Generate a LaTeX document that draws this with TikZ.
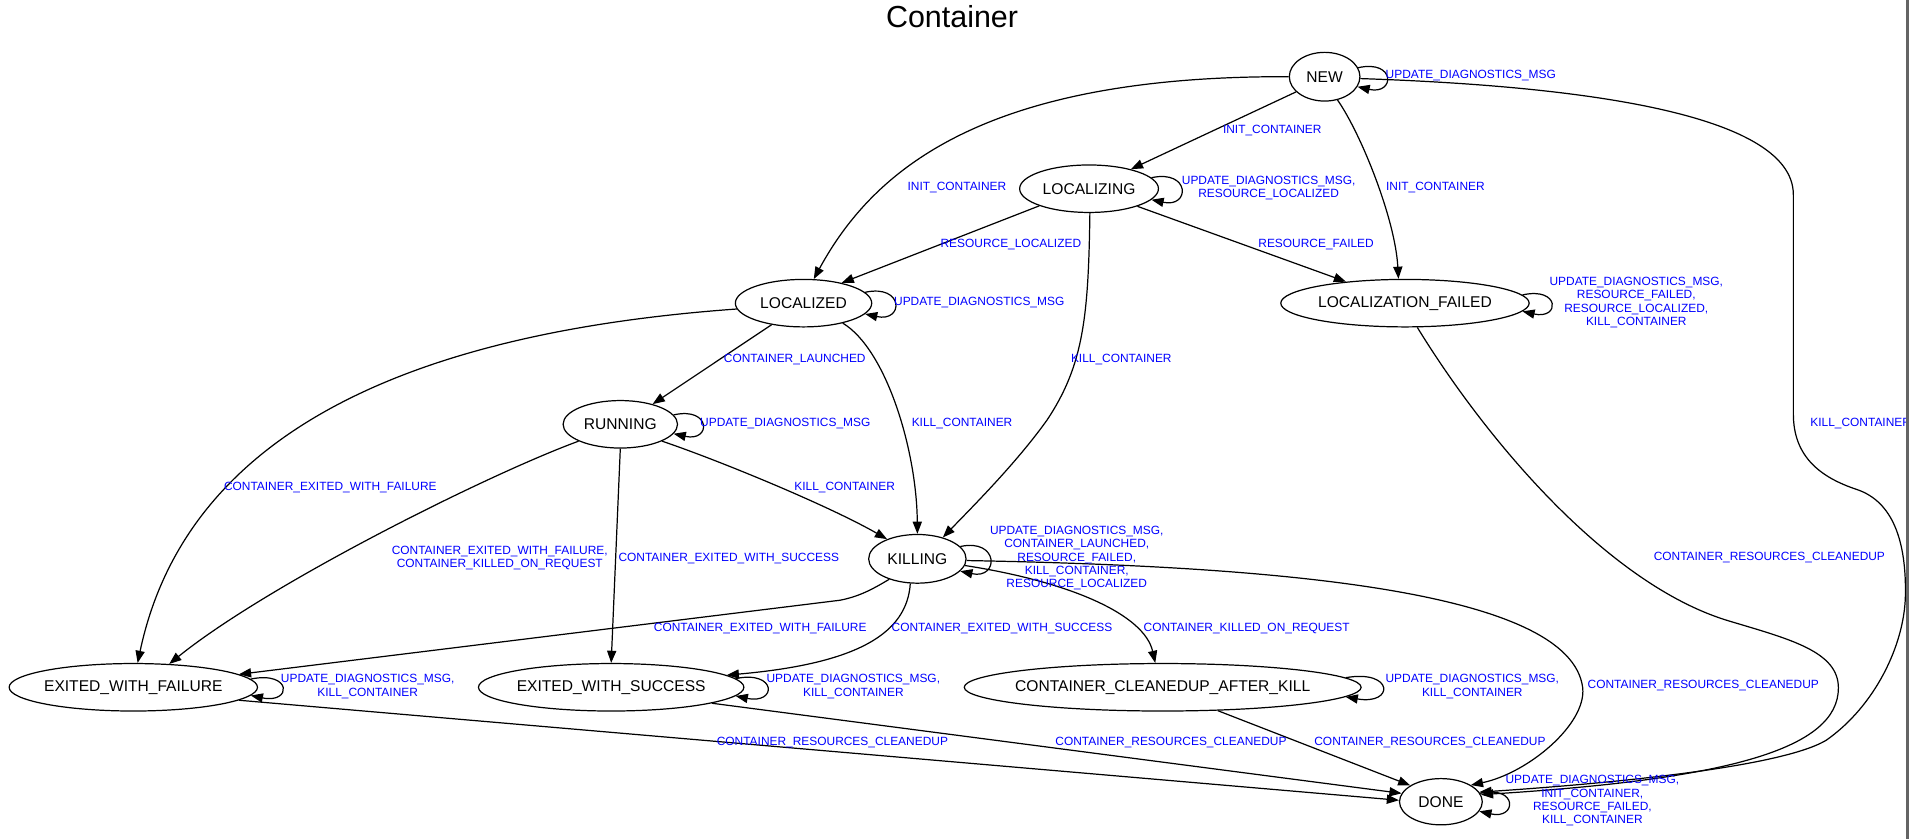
\documentclass[tikz,border=0pt]{standalone}
\usepackage{fontspec}
\setmainfont{Liberation Sans}
\usetikzlibrary{shapes.geometric,arrows.meta}
\definecolor{lblue}{RGB}{0,0,255}
\definecolor{bordergray}{RGB}{100,100,100}
\newcommand\stfont{\fontsize{12.8pt}{15pt}\selectfont}
\newcommand\lbfont{\fontsize{9.8pt}{10.95pt}\selectfont}
\newcommand\ttlfont{\fontsize{25pt}{30pt}\selectfont}
\begin{document}
\begin{tikzpicture}[x=1pt,y=-1pt,
  st/.style={ellipse, draw, line width=1pt, inner sep=0pt},
  sttext/.style={font=\stfont, inner sep=0pt},
  el/.style={text=lblue, font=\lbfont, align=center, inner sep=0pt},
  edge/.style={-{Triangle[length=10pt,width=7.5pt]}, line width=1pt}]
\useasboundingbox (0,0) rectangle (1568,689);
\fill[white] (0,0) rectangle (1568,689);

\node[font=\ttlfont] (title) at (782,14) {Container};

% states
\node[st, minimum width=58pt, minimum height=40pt, label={[sttext]center:NEW}] (NEW) at (1088,63) {};
\node[st, minimum width=114pt, minimum height=39pt, label={[sttext]center:LOCALIZING}] (LOCALIZING) at (894.5,155) {};
\node[st, minimum width=112pt, minimum height=39pt, label={[sttext]center:LOCALIZED}] (LOCALIZED) at (660,249) {};
\node[st, minimum width=204pt, minimum height=39pt, label={[sttext]center:LOCALIZATION\_FAILED}] (LF) at (1154,249) {};
\node[st, minimum width=94pt, minimum height=39pt, label={[sttext]center:RUNNING}] (RUNNING) at (509.5,348.5) {};
\node[st, minimum width=80pt, minimum height=40pt, label={[sttext]center:KILLING}] (KILLING) at (753.5,459) {};
\node[st, minimum width=204pt, minimum height=39pt, label={[sttext]center:EXITED\_WITH\_FAILURE}] (EWF) at (109.5,564.5) {};
\node[st, minimum width=218pt, minimum height=39pt, label={[sttext]center:EXITED\_WITH\_SUCCESS}] (EWS) at (502,564.5) {};
\node[st, minimum width=326pt, minimum height=39pt, label={[sttext]center:CONTAINER\_CLEANEDUP\_AFTER\_KILL}] (CCAK) at (955,564.5) {};
\node[st, minimum width=68pt, minimum height=38pt, label={[sttext]center:DONE}] (DONE) at (1183.5,658.5) {};

% edges from NEW
\draw[edge] (NEW.15) .. controls +(31,-7) and +(31,7) .. (NEW.-17);
\draw[edge] (NEW.208) -- (LOCALIZING.25);
\draw[edge] (NEW.180) .. controls (810,62) and (718,138) .. (LOCALIZED.67);
\draw[edge] (NEW.-61) .. controls (1118,110) and (1146,180) .. (LF.105);
\draw[edge] (NEW.-3) .. controls (1280,70) and (1473,90) .. (1473,160) -- (1473,340)
  .. controls (1473,375) and (1495,392) .. (1525,402)
  .. controls (1555,412) and (1566,445) .. (1565,490)
  .. controls (1564,530) and (1540,580) .. (1500,608)
  .. controls (1460,632) and (1300,645) .. (DONE.14);

% edges from LOCALIZING
\draw[edge] (LOCALIZING.10) .. controls +(32,-7) and +(32,7) .. (LOCALIZING.-10);
\draw[edge] (LOCALIZING.199) -- (LOCALIZED.28);
\draw[edge] (LOCALIZING.-20) -- (LF.160);
\draw[edge] (LOCALIZING.-88) .. controls (894,260) and (890,300) .. (860,345)
  .. controls (835,380) and (800,415) .. (KILLING.40);

% edges from LOCALIZED
\draw[edge] (LOCALIZED.10) .. controls +(32,-7) and +(32,7) .. (LOCALIZED.-10);
\draw[edge] (LOCALIZED.214) -- (RUNNING.32);
\draw[edge] (LOCALIZED.-27) .. controls (728,287) and (753,370) .. (KILLING.90);
\draw[edge] (LOCALIZED.185) .. controls (310,275) and (150,370) .. (EWF.80);

% edges from LOCALIZATION_FAILED
\draw[edge] (LF.4) .. controls +(31,-7) and +(31,7) .. (LF.-4);
\draw[edge] (LF.-63) .. controls (1220,360) and (1320,480) .. (1420,510)
  .. controls (1470,525) and (1510,535) .. (1510,565)
  .. controls (1510,615) and (1420,640) .. (DONE.10);

% edges from RUNNING
\draw[edge] (RUNNING.10) .. controls +(31,-7) and +(31,7) .. (RUNNING.-10);
\draw[edge] (RUNNING.202) .. controls (400,390) and (220,480) .. (EWF.33);
\draw[edge] (RUNNING.-90) -- (EWS.90);
\draw[edge] (RUNNING.-22) .. controls (590,378) and (680,415) .. (KILLING.147);

% edges from KILLING
\draw[edge] (KILLING.16) .. controls +(32,-7) and +(32,7) .. (KILLING.-16);
\draw[edge] (KILLING.216) .. controls (715,485) and (705,490) .. (690,493) -- (EWF.7);
\draw[edge] (KILLING.254) .. controls (745,520) and (705,545) .. (EWS.6);
\draw[edge] (KILLING.-8) .. controls (880,478) and (940,505) .. (CCAK.107);
\draw[edge] (KILLING.-2) .. controls (1050,465) and (1290,485) .. (1300,565)
  .. controls (1303,595) and (1255,635) .. (DONE.29);

% edges from exit states
\draw[edge] (EWF.4) .. controls +(34,-7) and +(34,7) .. (EWF.-4);
\draw[edge] (EWF.-7) -- (DONE.178);
\draw[edge] (EWS.4) .. controls +(34,-7) and +(34,7) .. (EWS.-4);
\draw[edge] (EWS.-9) -- (DONE.168);
\draw[edge] (CCAK.3) .. controls +(40,-7) and +(40,7) .. (CCAK.-3);
\draw[edge] (CCAK.-23) -- (DONE.152);
\draw[edge] (DONE.12) .. controls +(31,-7) and +(31,7) .. (DONE.-14);

% edge labels
\node[el, anchor=west] (l1) at (1138,62) {UPDATE\_DIAGNOSTICS\_MSG};
\node[el] (l2) at (1045,107) {INIT\_CONTAINER};
\node[el] (l3) at (786,154) {INIT\_CONTAINER};
\node[el] (l4) at (1179,154) {INIT\_CONTAINER};
\node[el] (l5) at (1042,154.2) {UPDATE\_DIAGNOSTICS\_MSG,\\RESOURCE\_LOCALIZED};
\node[el] (l6) at (830.3,200.7) {RESOURCE\_LOCALIZED};
\node[el] (l7) at (1081,201) {RESOURCE\_FAILED};
\node[el] (l8) at (804.3,248.3) {UPDATE\_DIAGNOSTICS\_MSG};
\node[el] (l9) at (1344,248.5) {UPDATE\_DIAGNOSTICS\_MSG,\\RESOURCE\_FAILED,\\RESOURCE\_LOCALIZED,\\KILL\_CONTAINER};
\node[el] (l10) at (921,295) {KILL\_CONTAINER};
\node[el] (l11) at (652.8,295) {CONTAINER\_LAUNCHED};
\node[el] (l12) at (645,347.7) {UPDATE\_DIAGNOSTICS\_MSG};
\node[el] (l13) at (790.2,347.7) {KILL\_CONTAINER};
\node[el, anchor=west] (l14) at (1486.8,347.5) {KILL\_CONTAINER};
\node[el] (l15) at (271.3,400.6) {CONTAINER\_EXITED\_WITH\_FAILURE};
\node[el] (l16) at (693.8,400.6) {KILL\_CONTAINER};
\node[el] (l17) at (410.5,458.6) {CONTAINER\_EXITED\_WITH\_FAILURE,\\CONTAINER\_KILLED\_ON\_REQUEST};
\node[el] (l18) at (598.6,458.6) {CONTAINER\_EXITED\_WITH\_SUCCESS};
\node[el] (l19) at (884.4,458.6) {UPDATE\_DIAGNOSTICS\_MSG,\\CONTAINER\_LAUNCHED,\\RESOURCE\_FAILED,\\KILL\_CONTAINER,\\RESOURCE\_LOCALIZED};
\node[el] (l20) at (1453.3,457.8) {CONTAINER\_RESOURCES\_CLEANEDUP};
\node[el] (l21) at (624.4,516.1) {CONTAINER\_EXITED\_WITH\_FAILURE};
\node[el] (l22) at (823,516.1) {CONTAINER\_EXITED\_WITH\_SUCCESS};
\node[el] (l23) at (1024,516.1) {CONTAINER\_KILLED\_ON\_REQUEST};
\node[el] (l24) at (302,563.8) {UPDATE\_DIAGNOSTICS\_MSG,\\KILL\_CONTAINER};
\node[el] (l25) at (700.9,563.8) {UPDATE\_DIAGNOSTICS\_MSG,\\KILL\_CONTAINER};
\node[el] (l26) at (1209.3,563.8) {UPDATE\_DIAGNOSTICS\_MSG,\\KILL\_CONTAINER};
\node[el] (l27) at (1399,563.4) {CONTAINER\_RESOURCES\_CLEANEDUP};
\node[el] (l28) at (683.7,610) {CONTAINER\_RESOURCES\_CLEANEDUP};
\node[el] (l29) at (961.8,610) {CONTAINER\_RESOURCES\_CLEANEDUP};
\node[el] (l30) at (1174.5,610) {CONTAINER\_RESOURCES\_CLEANEDUP};
\node[el] (l31) at (1307.9,657.7) {UPDATE\_DIAGNOSTICS\_MSG,\\INIT\_CONTAINER,\\RESOURCE\_FAILED,\\KILL\_CONTAINER};

% right page border
\draw[bordergray, line width=2.2pt] (1566.5,0) -- (1566.5,689);
\end{tikzpicture}
\end{document}
